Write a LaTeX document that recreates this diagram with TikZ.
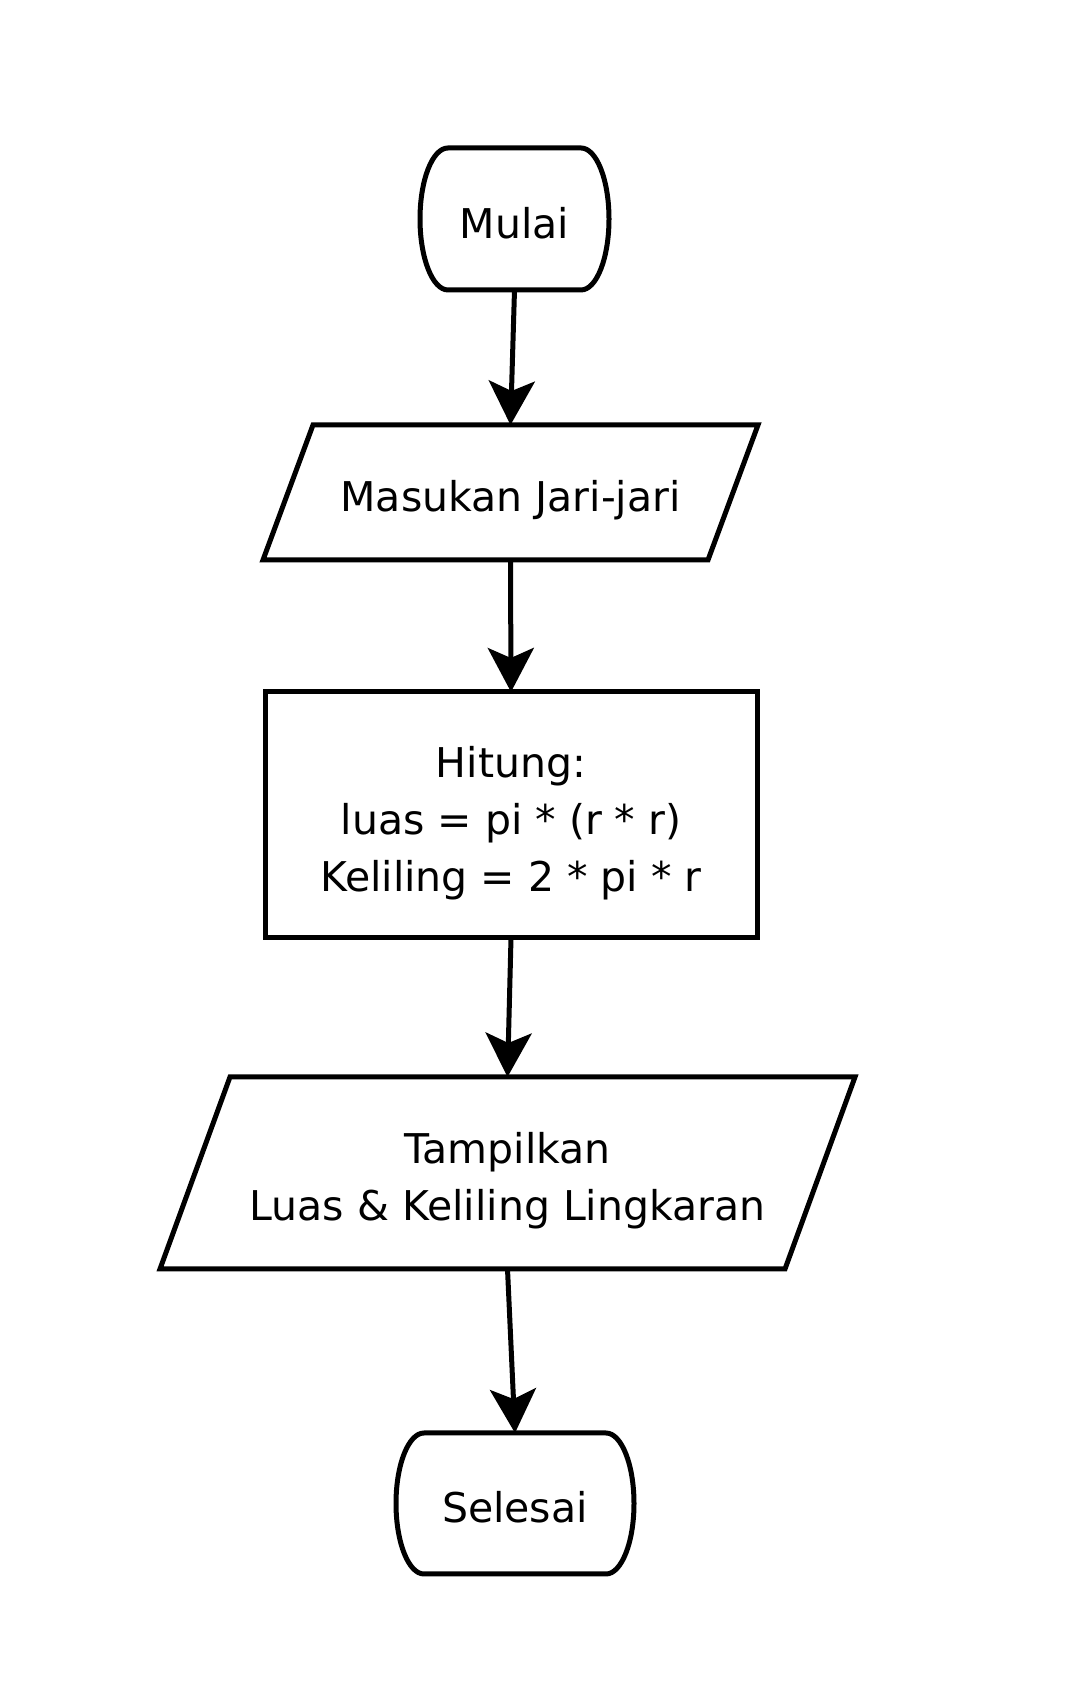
\documentclass[tikz,border=0pt]{standalone}
\usepackage{fontspec}
\setmainfont{DejaVu Sans}
\usetikzlibrary{arrows.meta}
\newcommand{\dnbox}[1]{\raisebox{0pt}[\dimexpr\height+16pt\relax][\depth]{\begin{tabular}{@{}c@{}}#1\end{tabular}}}
\begin{document}
\begin{tikzpicture}[x=1pt,y=1pt,
  box/.style={rectangle,draw=none,inner sep=0pt,outer sep=0pt,align=center,
    font=\fontsize{41}{57}\selectfont},
  shp/.style={draw=black,line width=5pt,line join=miter},
  arr/.style={draw=black,line width=5pt,-{Stealth[length=44pt,width=46pt,inset=10pt]}}]
\useasboundingbox (0,0) rectangle (1080,1694);
% nodes
\node[box,minimum width=189pt,minimum height=142pt] (mulai) at (514.5,1475) {\dnbox{Mulai}};
\node[box,minimum width=495pt,minimum height=135pt] (masuk) at (510.5,1201.5) {\dnbox{Masukan Jari-jari}};
\node[box,minimum width=492pt,minimum height=246pt,draw=black,line width=5pt] (hitung) at (511,879)
  {\dnbox{Hitung:\\luas = pi * (r * r)\\Keliling = 2 * pi * r}};
\node[box,minimum width=695pt,minimum height=192pt] (tampil) at (507.5,521)
  {\dnbox{Tampilkan\\Luas \& Keliling Lingkaran}};
\node[box,minimum width=238pt,minimum height=141pt] (selesai) at (515,190.5) {\dnbox{Selesai}};
% terminator shapes
\draw[shp] ([xshift=28pt]mulai.north west) -- ([xshift=-28pt]mulai.north east)
  arc[start angle=90,end angle=-90,x radius=28pt,y radius=71pt]
  -- ([xshift=28pt]mulai.south west)
  arc[start angle=270,end angle=90,x radius=28pt,y radius=71pt] -- cycle;
\draw[shp] ([xshift=28pt]selesai.north west) -- ([xshift=-28pt]selesai.north east)
  arc[start angle=90,end angle=-90,x radius=28pt,y radius=70.5pt]
  -- ([xshift=28pt]selesai.south west)
  arc[start angle=270,end angle=90,x radius=28pt,y radius=70.5pt] -- cycle;
% parallelograms
\draw[shp] ([xshift=50pt]masuk.north west) -- (masuk.north east)
  -- ([xshift=-50pt]masuk.south east) -- (masuk.south west) -- cycle;
\draw[shp] ([xshift=70pt]tampil.north west) -- (tampil.north east)
  -- ([xshift=-70pt]tampil.south east) -- (tampil.south west) -- cycle;
% connectors
\draw[arr] (mulai.south) -- (masuk.north);
\draw[arr] (masuk.south) -- (hitung.north);
\draw[arr] (hitung.south) -- (tampil.north);
\draw[arr] (tampil.south) -- (selesai.north);
\end{tikzpicture}
\end{document}
